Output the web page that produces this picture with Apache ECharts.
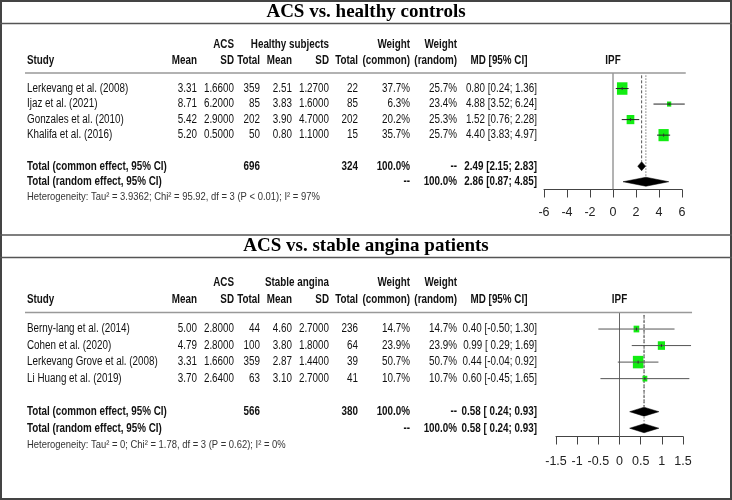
<!DOCTYPE html>
<html><head><meta charset="utf-8">
<script src="https://cdn.jsdelivr.net/npm/echarts@6/dist/echarts.min.js"></script>
<style>html,body{margin:0;padding:0;background:#fff}#c{width:732px;height:500px}</style>
</head><body><div id="c"></div>
<script>
// ---------- Panel 1: ACS vs. healthy controls ----------
const title1 = 'ACS vs. healthy controls';
const groupLabel1 = 'Healthy subjects';
const studies1 = ['Lerkevang et al. (2008)', 'Ijaz et al. (2021)', 'Gonzales et al. (2010)', 'Khalifa et al. (2016)'];
const acsMean1 = [3.31, 8.71, 5.42, 5.20];
const acsSD1 = [1.66, 6.20, 2.90, 0.50];
const acsN1 = [359, 85, 202, 50];
const ctlMean1 = [2.51, 3.83, 3.90, 0.80];
const ctlSD1 = [1.27, 1.60, 4.70, 1.10];
const ctlN1 = [22, 85, 202, 15];
const wCommon1 = [37.7, 6.3, 20.2, 35.7];
const wRandom1 = [25.7, 23.4, 25.3, 25.7];
const md1 = [0.80, 4.88, 1.52, 4.40];
const lo1 = [0.24, 3.52, 0.76, 3.83];
const hi1 = [1.36, 6.24, 2.28, 4.97];
const common1 = [2.49, 2.15, 2.83];
const random1 = [2.86, 0.87, 4.85];
const het1 = 'Heterogeneity: Tau² = 3.9362; Chi² = 95.92, df = 3 (P < 0.01); I² = 97%';
const ticks1 = [-6, -4, -2, 0, 2, 4, 6];

// ---------- Panel 2: ACS vs. stable angina patients ----------
const title2 = 'ACS vs. stable angina patients';
const groupLabel2 = 'Stable angina';
const studies2 = ['Berny-lang et al. (2014)', 'Cohen et al. (2020)', 'Lerkevang Grove et al. (2008)', 'Li Huang et al. (2019)'];
const acsMean2 = [5.00, 4.79, 3.31, 3.70];
const acsSD2 = [2.80, 2.80, 1.66, 2.64];
const acsN2 = [44, 100, 359, 63];
const ctlMean2 = [4.60, 3.80, 2.87, 3.10];
const ctlSD2 = [2.70, 1.80, 1.44, 2.70];
const ctlN2 = [236, 64, 39, 41];
const wCommon2 = [14.7, 23.9, 50.7, 10.7];
const wRandom2 = [14.7, 23.9, 50.7, 10.7];
const md2 = [0.40, 0.99, 0.44, 0.60];
const lo2 = [-0.50, 0.29, -0.04, -0.45];
const hi2 = [1.30, 1.69, 0.92, 1.65];
const common2 = [0.58, 0.24, 0.93];
const random2 = [0.58, 0.24, 0.93];
const het2 = 'Heterogeneity: Tau² = 0; Chi² = 1.78, df = 3 (P = 0.62); I² = 0%';
const ticks2 = [-1.5, -1, -0.5, 0, 0.5, 1, 1.5];

const panels = [
  {title: title1, grp: groupLabel1, studies: studies1, m1: acsMean1, s1: acsSD1, n1: acsN1, m2: ctlMean1, s2: ctlSD1, n2: ctlN1,
   wc: wCommon1, wr: wRandom1, md: md1, lo: lo1, hi: hi1, com: common1, ran: random1, het: het1, ticks: ticks1, ciColor: '#222'},
  {title: title2, grp: groupLabel2, studies: studies2, m1: acsMean2, s1: acsSD2, n1: acsN2, m2: ctlMean2, s2: ctlSD2, n2: ctlN2,
   wc: wCommon2, wr: wRandom2, md: md2, lo: lo2, hi: hi2, com: common2, ran: random2, het: het2, ticks: ticks2, ciColor: '#555'}
];

// ---------- layout ----------
const gridsLayout = [
  {left: 544, top: 73, width: 138, height: 116.5},
  {left: 556, top: 312.5, width: 127, height: 124}
];
const titleY = [12, 246];
const COMMON_ROW = 5, RANDOM_ROW = 6, HET_ROW = 7;
const cols = {study: 27, mean: 197, sd: 234, n: 260, mean2: 292, sd2: 329, n2: 358, wc: 410, wr: 457, md: 537, mdHead: 499};

function hasFont(f) {
  const c = document.createElement('canvas').getContext('2d');
  const s = 'abcdefghijklmWwi0123';
  c.font = '40px monospace'; const a = c.measureText(s).width;
  c.font = '40px "' + f + '", monospace'; return c.measureText(s).width !== a;
}
const axisFont = hasFont('Liberation Sans Narrow') ? 'Liberation Sans Narrow' : 'Liberation Sans';

const chart = echarts.init(document.getElementById('c'), null, {renderer: 'canvas'});

const grid = [], xAxis = [], yAxis = [], series = [];
panels.forEach((p, g) => {
  grid.push(Object.assign({containLabel: false}, gridsLayout[g]));
  const t = p.ticks;
  xAxis.push({
    type: 'value', gridIndex: g, min: t[0], max: t[t.length - 1], interval: t[1] - t[0], position: 'bottom',
    splitLine: {show: false},
    axisLine: {show: true, onZero: false, lineStyle: {color: '#444', width: 1}},
    axisTick: {show: true, length: 8, lineStyle: {color: '#444', width: 1}},
    axisLabel: {color: '#222', fontSize: 12.5, fontFamily: axisFont, margin: g === 0 ? 17 : 19}
  });
  yAxis.push({type: 'value', gridIndex: g, inverse: true, min: -1, max: 6.5, show: false});

  // zero line
  series.push({
    type: 'custom', xAxisIndex: g, yAxisIndex: g, z: 1, silent: true, data: [[0]],
    renderItem: (params, api) => {
      const a = api.coord([api.value(0), -1]), b = api.coord([api.value(0), 6.5]);
      return {type: 'line', shape: {x1: a[0], y1: a[1], x2: b[0], y2: b[1]}, style: {stroke: '#666', lineWidth: 1}};
    }
  });
  // summary reference lines (common dashed, random dotted)
  series.push({
    type: 'custom', xAxisIndex: g, yAxisIndex: g, z: 2, silent: true,
    data: [[p.com[0], COMMON_ROW, 0], [p.ran[0], RANDOM_ROW, 1]],
    renderItem: (params, api) => {
      const a = api.coord([api.value(0), -0.85]), b = api.coord([api.value(0), api.value(1) - 0.3]);
      const dotted = api.value(2) === 1;
      return {type: 'line', shape: {x1: a[0], y1: a[1], x2: b[0], y2: b[1]},
        style: {stroke: dotted ? '#777' : '#555', lineWidth: 1, lineDash: dotted ? [1.5, 1.5] : [3, 2]}};
    }
  });
  // study boxes
  const wmax = Math.max(...p.wc);
  series.push({
    type: 'scatter', xAxisIndex: g, yAxisIndex: g, z: 3, silent: true, symbol: 'rect',
    data: p.md.map((v, i) => [v, i, p.wc[i]]),
    symbolSize: (val) => { const s = Math.sqrt(val[2] / wmax); return [10.5 * s, 12.5 * s]; },
    itemStyle: {color: '#12ec12', opacity: 1}
  });
  // confidence interval lines
  series.push({
    type: 'custom', xAxisIndex: g, yAxisIndex: g, z: 4, silent: true,
    data: p.md.map((v, i) => [p.lo[i], p.hi[i], v, i]),
    renderItem: (params, api) => {
      const r = api.value(3);
      const a = api.coord([api.value(0), r]), b = api.coord([api.value(1), r]), c = api.coord([api.value(2), r]);
      return {type: 'group', children: [
        {type: 'line', shape: {x1: a[0], y1: a[1], x2: b[0], y2: b[1]}, style: {stroke: p.ciColor, lineWidth: 1}},
        {type: 'line', shape: {x1: c[0], y1: c[1] - 1.5, x2: c[0], y2: c[1] + 1.5}, style: {stroke: '#333', lineWidth: 1}}
      ]};
    }
  });
  // diamonds
  series.push({
    type: 'custom', xAxisIndex: g, yAxisIndex: g, z: 5, silent: true,
    data: [[p.com[0], p.com[1], p.com[2], COMMON_ROW], [p.ran[0], p.ran[1], p.ran[2], RANDOM_ROW]],
    renderItem: (params, api) => {
      const r = api.value(3), h = 4.5;
      const e = api.coord([api.value(0), r]), l = api.coord([api.value(1), r]), u = api.coord([api.value(2), r]);
      return {type: 'polygon', shape: {points: [[l[0], l[1]], [e[0], e[1] - h], [u[0], u[1]], [e[0], e[1] + h]]},
        style: {fill: '#000', stroke: '#000', lineWidth: 0.5}};
    }
  });
});

chart.setOption({animation: false, grid, xAxis, yAxis, series});

// ---------- table text & decorations ----------
const FONT = '"Liberation Sans", Arial, sans-serif';
function T(text, x, y, align, bold, size, color) {
  return {type: 'text', x: x, y: y, scaleX: 0.82, silent: true, z: 10,
    style: {text: String(text), x: 0, y: 0, textAlign: align, textVerticalAlign: 'middle',
      font: (bold ? 'bold ' : '') + (size || 12) + 'px ' + FONT, fill: color || '#111'}};
}
function L(x1, y1, x2, y2, color, w) {
  return {type: 'line', silent: true, z: 9, shape: {x1, y1, x2, y2}, style: {stroke: color, lineWidth: w}};
}
const f2 = v => v.toFixed(2), f4 = v => v.toFixed(4), pct = v => v.toFixed(1) + '%';

const els = [];
els.push({type: 'rect', silent: true, z: 9, shape: {x: 1, y: 1, width: 730, height: 498}, style: {fill: 'none', stroke: '#444', lineWidth: 2}});
els.push(L(0, 23.5, 732, 23.5, '#555', 1.5));
els.push(L(0, 235, 732, 235, '#555', 1.5));
els.push(L(0, 257.5, 732, 257.5, '#555', 1.5));

panels.forEach((p, g) => {
  const Y = r => chart.convertToPixel({gridIndex: g}, [0, r])[1];
  const X = v => chart.convertToPixel({gridIndex: g}, [v, 0])[0];
  const anyNeg = p.lo.some(v => v < 0) || p.com[1] < 0 || p.ran[1] < 0;
  const fLo = v => (anyNeg && v >= 0 ? ' ' : '') + f2(v);
  const mdStr = (e, l, u) => f2(e) + ' [' + fLo(l) + '; ' + f2(u) + ']';

  els.push({type: 'text', silent: true, z: 10, x: 366, y: titleY[g],
    style: {text: p.title, x: 0, y: 0, textAlign: 'center', textVerticalAlign: 'middle', font: 'bold 19px "Liberation Serif", serif', fill: '#000'}});

  const yh1 = Y(-2.8), yh2 = Y(-1.78);
  els.push(T('ACS', cols.sd, yh1, 'right', true));
  els.push(T(p.grp, cols.sd2, yh1, 'right', true));
  els.push(T('Weight', cols.wc, yh1, 'right', true));
  els.push(T('Weight', cols.wr, yh1, 'right', true));
  els.push(T('Study', cols.study, yh2, 'left', true));
  els.push(T('Mean', cols.mean, yh2, 'right', true));
  els.push(T('SD', cols.sd, yh2, 'right', true));
  els.push(T('Total', cols.n, yh2, 'right', true));
  els.push(T('Mean', cols.mean2, yh2, 'right', true));
  els.push(T('SD', cols.sd2, yh2, 'right', true));
  els.push(T('Total', cols.n2, yh2, 'right', true));
  els.push(T('(common)', cols.wc, yh2, 'right', true));
  els.push(T('(random)', cols.wr, yh2, 'right', true));
  els.push(T('MD [95% CI]', cols.mdHead, yh2, 'center', true));
  els.push(T('IPF', X((p.ticks[0] + p.ticks[p.ticks.length - 1]) / 2), yh2, 'center', true));

  // header rule from table start to rightmost CI end
  const yl = Y(-1);
  els.push(L(25, yl, Math.max(X(Math.max(...p.hi)), X(p.ticks[p.ticks.length - 1])) + 1, yl, '#999', 1.5));

  p.studies.forEach((s, i) => {
    const y = Y(i);
    els.push(T(s, cols.study, y, 'left'));
    els.push(T(f2(p.m1[i]), cols.mean, y, 'right'));
    els.push(T(f4(p.s1[i]), cols.sd, y, 'right'));
    els.push(T(p.n1[i], cols.n, y, 'right'));
    els.push(T(f2(p.m2[i]), cols.mean2, y, 'right'));
    els.push(T(f4(p.s2[i]), cols.sd2, y, 'right'));
    els.push(T(p.n2[i], cols.n2, y, 'right'));
    els.push(T(pct(p.wc[i]), cols.wc, y, 'right'));
    els.push(T(pct(p.wr[i]), cols.wr, y, 'right'));
    els.push(T(mdStr(p.md[i], p.lo[i], p.hi[i]), cols.md, y, 'right'));
  });
  const sum = a => a.reduce((s, v) => s + v, 0);
  const yc = Y(COMMON_ROW), yr = Y(RANDOM_ROW);
  els.push(T('Total (common effect, 95% CI)', cols.study, yc, 'left', true));
  els.push(T(sum(p.n1), cols.n, yc, 'right', true));
  els.push(T(sum(p.n2), cols.n2, yc, 'right', true));
  els.push(T('100.0%', cols.wc, yc, 'right', true));
  els.push(T('--', cols.wr, yc, 'right', true));
  els.push(T(mdStr(p.com[0], p.com[1], p.com[2]), cols.md, yc, 'right', true));
  els.push(T('Total (random effect, 95% CI)', cols.study, yr, 'left', true));
  els.push(T('--', cols.wc, yr, 'right', true));
  els.push(T('100.0%', cols.wr, yr, 'right', true));
  els.push(T(mdStr(p.ran[0], p.ran[1], p.ran[2]), cols.md, yr, 'right', true));
  els.push(T(p.het, cols.study, Y(HET_ROW), 'left', false, 11.5, '#333'));
});

chart.setOption({graphic: {elements: els}});
</script>
</body></html>
